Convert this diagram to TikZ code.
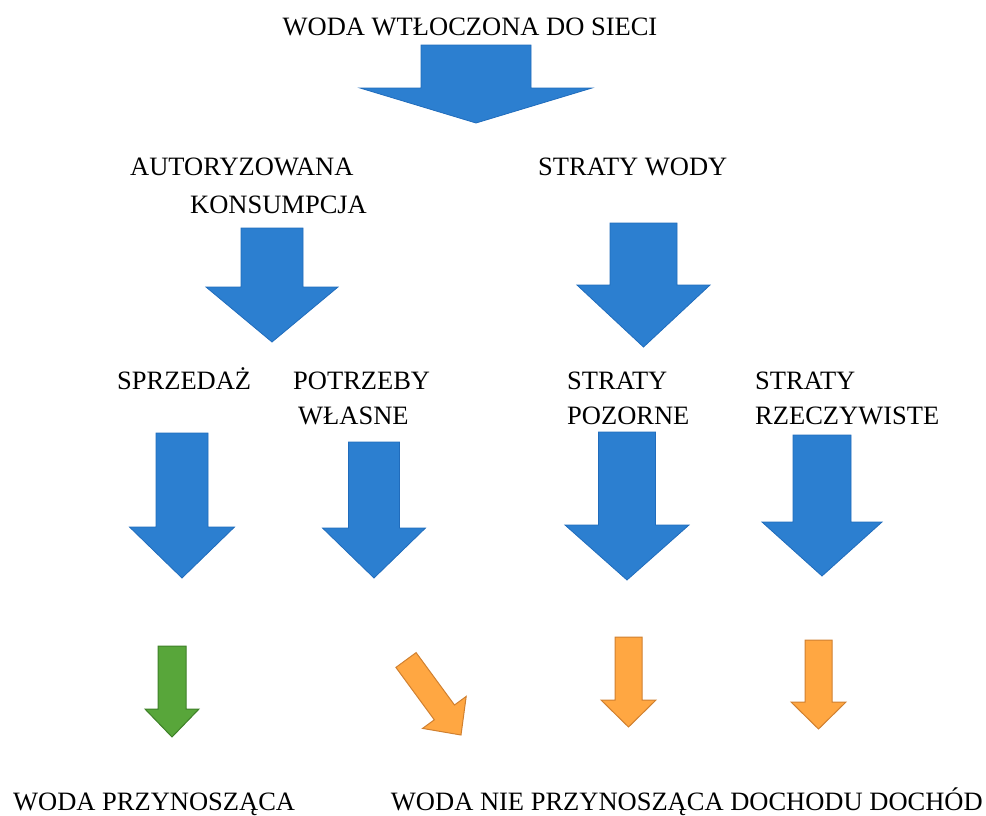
\documentclass[tikz,border=0pt]{standalone}
\usepackage{fontspec}
\setmainfont{Liberation Serif}
\definecolor{arrblue}{RGB}{44,127,208}
\definecolor{arrblueedge}{RGB}{32,108,188}
\definecolor{arrgreen}{RGB}{88,166,58}
\definecolor{arrgreenedge}{RGB}{62,128,40}
\definecolor{arrorange}{RGB}{255,167,66}
\definecolor{arrorangeedge}{RGB}{208,128,48}
% style, cx, top, shafthalf, base, headhalf, tip
\newcommand\blkarrow[7]{%
  \draw[#1] (#2-#4,#3) -- (#2+#4,#3) -- (#2+#4,#5) -- (#2+#6,#5) -- (#2,#7)
    -- (#2-#6,#5) -- (#2-#4,#5) -- cycle;}
\tikzset{
  lbl/.style={font=\fontsize{26.5}{30}\selectfont, inner sep=0pt, anchor=base west},
  bluearrow/.style={fill=arrblue, draw=arrblueedge, line width=0.8pt, line join=miter},
  greenarrow/.style={fill=arrgreen, draw=arrgreenedge, line width=1pt, line join=miter},
  orangearrow/.style={fill=arrorange, draw=arrorangeedge, line width=1pt, line join=miter}
}
\begin{document}
\begin{tikzpicture}[x=1pt,y=-1pt]
\useasboundingbox (0,0) rectangle (986,815);
% labels
\node[lbl, anchor=base] (top) at (470,35) {WODA WTŁOCZONA DO SIECI};
\node[lbl] (auto1) at (130,175) {AUTORYZOWANA};
\node[lbl] (auto2) at (190,213) {KONSUMPCJA};
\node[lbl] (straty) at (538,175) {STRATY WODY};
\node[lbl] (sprz) at (117,389) {SPRZEDAŻ};
\node[lbl] (potrz1) at (293,389) {POTRZEBY};
\node[lbl] (potrz2) at (298,424) {WŁASNE};
\node[lbl] (poz1) at (567,389) {STRATY};
\node[lbl] (poz2) at (567,424) {POZORNE};
\node[lbl] (rz1) at (755,389) {STRATY};
\node[lbl] (rz2) at (755,424) {RZECZYWISTE};
\node[lbl] (bottomL) at (13,810) {WODA PRZYNOSZĄCA};
\node[lbl, anchor=base east] (bottomR) at (983,810) {WODA NIE PRZYNOSZĄCA DOCHODU DOCHÓD};
% big blue arrows
\blkarrow{bluearrow}{476}{45}{55}{88}{116}{123}
\blkarrow{bluearrow}{272}{228}{31}{287}{66}{342}
\blkarrow{bluearrow}{643.5}{223}{33.5}{285}{66.5}{347}
\blkarrow{bluearrow}{182}{433}{26}{527}{52.5}{578}
\blkarrow{bluearrow}{374}{442}{25.5}{528}{51.5}{578}
\blkarrow{bluearrow}{627}{432}{28.5}{525}{62}{580}
\blkarrow{bluearrow}{822}{435}{29}{522}{60}{576}
% small arrows
\blkarrow{greenarrow}{172}{646}{14}{709}{27}{737}
\blkarrow{orangearrow}{628.5}{637}{13.5}{700}{27.5}{727}
\blkarrow{orangearrow}{818.5}{640}{13.5}{702}{27.5}{729}
\draw[orangearrow] (416.1,652.6) -- (454.5,705.0) -- (466.2,696.4) -- (461,735)
  -- (422.6,728.4) -- (434.3,719.8) -- (395.9,667.4) -- cycle;
\end{tikzpicture}
\end{document}
